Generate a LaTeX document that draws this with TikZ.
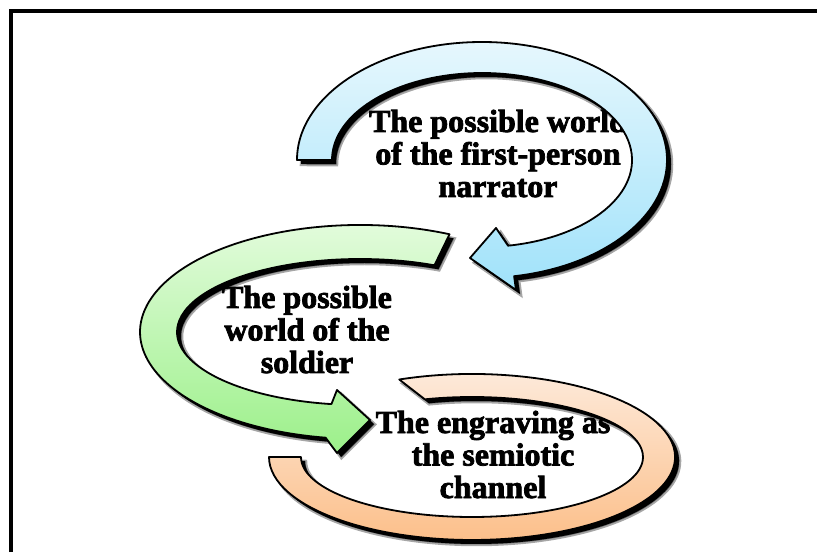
\documentclass[tikz,border=0pt]{standalone}
\usepackage{fontspec}
\setmainfont{Liberation Serif}[BoldFeatures={FakeBold=2.4}]
\definecolor{bluetop}{RGB}{230,247,253}
\definecolor{bluebot}{RGB}{160,226,250}
\definecolor{greentop}{RGB}{230,252,224}
\definecolor{greenbot}{RGB}{156,240,138}
\definecolor{orangetop}{RGB}{253,236,222}
\definecolor{orangebot}{RGB}{252,190,136}
\newcommand\mypathblue{(297,392) arc[start angle=180, end angle=-80, x radius=185, y radius=118] -- (516,262) -- (470,294) -- (496,324) -- (508.05,306.3) arc[start angle=-80, end angle=180, x radius=150, y radius=87] -- cycle}
\newcommand\mypathgreen{(449.5,317.75) arc[start angle=66, end angle=261, x radius=220, y radius=107] -- (337,99) -- (370,132) -- (337,162) -- (331.4,147.9) arc[start angle=261, end angle=66, x radius=183, y radius=73] -- cycle}
\newcommand\mypathorange{(399.25,172.5) arc[start angle=111, end angle=-180, x radius=203, y radius=83] -- (301,95) arc[start angle=-180, end angle=106, x radius=171, y radius=60] -- cycle}
\begin{document}
\begin{tikzpicture}[x=1pt,y=1pt,
  shadowsoft/.style={fill=black, opacity=0.35, draw=black, line width=3.5pt, xshift=4.5pt, yshift=-4.5pt},
  shadowfill/.style={fill=black, xshift=4pt, yshift=-4pt},
  bandline/.style={draw=black, line width=1.8pt, line join=round},
  wtext/.style={font=\fontsize{32}{32.5}\selectfont\bfseries, align=center, anchor=base, inner sep=0pt, text=black},
  frameline/.style={draw=black, line width=3.5pt}]
\useasboundingbox (0,0) rectangle (817,552);
\fill[white] (0,0) rectangle (817,552);
\draw[frameline] (11,0) -- (11,541) -- (817,541);
% texts (behind the arrows); anchor base = last line's baseline
\node[wtext] (t1) at (498,355) {The possible world\\of the first-person\\narrator};
\node[wtext] (t2) at (307,179) {The possible\\world of the\\soldier};
\node[wtext] (t3) at (493,54) {The engraving as\\the semiotic\\channel};
% blue arrow
\path[shadowsoft] \mypathblue;
\path[shadowfill] \mypathblue;
\path[bandline, top color=bluetop, bottom color=bluebot] \mypathblue;
% green arrow
\path[shadowsoft] \mypathgreen;
\path[shadowfill] \mypathgreen;
\path[bandline, top color=greentop, bottom color=greenbot] \mypathgreen;
% orange loop
\path[shadowsoft] \mypathorange;
\path[shadowfill] \mypathorange;
\path[bandline, top color=orangetop, bottom color=orangebot] \mypathorange;
\end{tikzpicture}
\end{document}
